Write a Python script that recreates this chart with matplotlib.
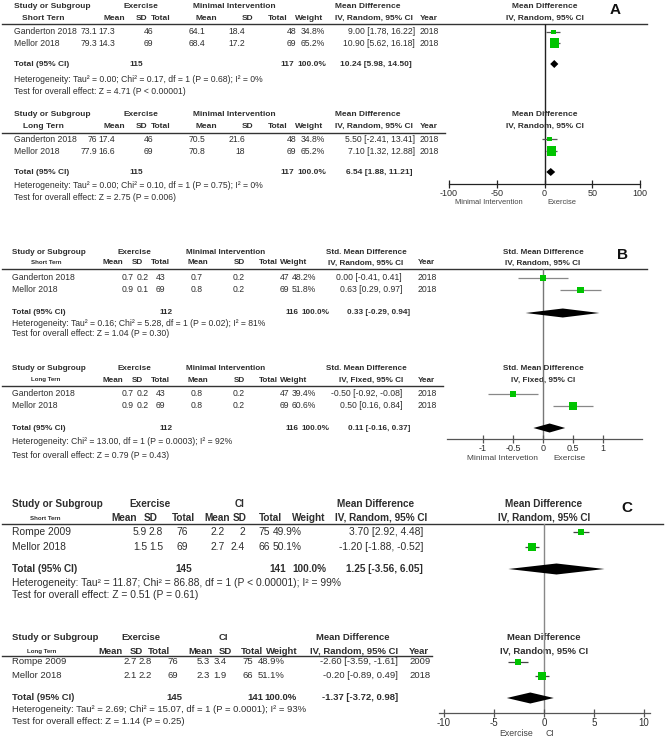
import matplotlib
matplotlib.use('Agg')
import matplotlib.pyplot as plt

W, H, DPI = 669, 739, 100
plt.rcParams['font.family'] = ['Liberation Sans', 'DejaVu Sans']
TXT = '#2e2e2e'
GREEN = '#00c400'

# ====================== DATA ======================
# Panel A - short term
a_short_study = ['Ganderton 2018', 'Mellor 2018']
a_short_year = [2018, 2018]
a_short_ex_mean = [73.1, 79.3]
a_short_ex_sd = [17.3, 14.3]
a_short_ex_n = [46, 69]
a_short_ct_mean = [64.1, 68.4]
a_short_ct_sd = [18.4, 17.2]
a_short_ct_n = [48, 69]
a_short_weight = [34.8, 65.2]
a_short_est = [9.00, 10.90]
a_short_lo = [1.78, 5.62]
a_short_hi = [16.22, 16.18]
a_short_total_n = [115, 117]
a_short_pooled = [10.24, 5.98, 14.50]
a_short_het = 'Heterogeneity: Tau² = 0.00; Chi² = 0.17, df = 1 (P = 0.68); I² = 0%'
a_short_test = 'Test for overall effect: Z = 4.71 (P < 0.00001)'

# Panel A - long term
a_long_study = ['Ganderton 2018', 'Mellor 2018']
a_long_year = [2018, 2018]
a_long_ex_mean = [76, 77.9]
a_long_ex_sd = [17.4, 16.6]
a_long_ex_n = [46, 69]
a_long_ct_mean = [70.5, 70.8]
a_long_ct_sd = [21.6, 18]
a_long_ct_n = [48, 69]
a_long_weight = [34.8, 65.2]
a_long_est = [5.50, 7.10]
a_long_lo = [-2.41, 1.32]
a_long_hi = [13.41, 12.88]
a_long_total_n = [115, 117]
a_long_pooled = [6.54, 1.88, 11.21]
a_long_het = 'Heterogeneity: Tau² = 0.00; Chi² = 0.10, df = 1 (P = 0.75); I² = 0%'
a_long_test = 'Test for overall effect: Z = 2.75 (P = 0.006)'

# Panel B - short term
b_short_study = ['Ganderton 2018', 'Mellor 2018']
b_short_year = [2018, 2018]
b_short_ex_mean = [0.7, 0.9]
b_short_ex_sd = [0.2, 0.1]
b_short_ex_n = [43, 69]
b_short_ct_mean = [0.7, 0.8]
b_short_ct_sd = [0.2, 0.2]
b_short_ct_n = [47, 69]
b_short_weight = [48.2, 51.8]
b_short_est = [0.00, 0.63]
b_short_lo = [-0.41, 0.29]
b_short_hi = [0.41, 0.97]
b_short_total_n = [112, 116]
b_short_pooled = [0.33, -0.29, 0.94]
b_short_het = 'Heterogeneity: Tau² = 0.16; Chi² = 5.28, df = 1 (P = 0.02); I² = 81%'
b_short_test = 'Test for overall effect: Z = 1.04 (P = 0.30)'

# Panel B - long term
b_long_study = ['Ganderton 2018', 'Mellor 2018']
b_long_year = [2018, 2018]
b_long_ex_mean = [0.7, 0.9]
b_long_ex_sd = [0.2, 0.2]
b_long_ex_n = [43, 69]
b_long_ct_mean = [0.8, 0.8]
b_long_ct_sd = [0.2, 0.2]
b_long_ct_n = [47, 69]
b_long_weight = [39.4, 60.6]
b_long_est = [-0.50, 0.50]
b_long_lo = [-0.92, 0.16]
b_long_hi = [-0.08, 0.84]
b_long_total_n = [112, 116]
b_long_pooled = [0.11, -0.16, 0.37]
b_long_het = 'Heterogeneity: Chi² = 13.00, df = 1 (P = 0.0003); I² = 92%'
b_long_test = 'Test for overall effect: Z = 0.79 (P = 0.43)'

# Panel C - short term
c_short_study = ['Rompe 2009', 'Mellor 2018']
c_short_year = [2009, 2018]
c_short_ex_mean = [5.9, 1.5]
c_short_ex_sd = [2.8, 1.5]
c_short_ex_n = [76, 69]
c_short_ct_mean = [2.2, 2.7]
c_short_ct_sd = [2, 2.4]
c_short_ct_n = [75, 66]
c_short_weight = [49.9, 50.1]
c_short_est = [3.70, -1.20]
c_short_lo = [2.92, -1.88]
c_short_hi = [4.48, -0.52]
c_short_total_n = [145, 141]
c_short_pooled = [1.25, -3.56, 6.05]
c_short_het = 'Heterogeneity: Tau² = 11.87; Chi² = 86.88, df = 1 (P < 0.00001); I² = 99%'
c_short_test = 'Test for overall effect: Z = 0.51 (P = 0.61)'

# Panel C - long term
c_long_study = ['Rompe 2009', 'Mellor 2018']
c_long_year = [2009, 2018]
c_long_ex_mean = [2.7, 2.1]
c_long_ex_sd = [2.8, 2.2]
c_long_ex_n = [76, 69]
c_long_ct_mean = [5.3, 2.3]
c_long_ct_sd = [3.4, 1.9]
c_long_ct_n = [75, 66]
c_long_weight = [48.9, 51.1]
c_long_est = [-2.60, -0.20]
c_long_lo = [-3.59, -0.89]
c_long_hi = [-1.61, 0.49]
c_long_total_n = [145, 141]
c_long_pooled = [-1.37, -3.72, 0.98]
c_long_het = 'Heterogeneity: Tau² = 2.69; Chi² = 15.07, df = 1 (P = 0.0001); I² = 93%'
c_long_test = 'Test for overall effect: Z = 1.14 (P = 0.25)'

# axis ticks and labels
a_ticks = [-100, -50, 0, 50, 100]
b_ticks = [-1, -0.5, 0, 0.5, 1]
c_ticks = [-10, -5, 0, 5, 10]
a_side_labels = ['Minimal Intervention', 'Exercise']
b_side_labels = ['Minimal Intervetion', 'Exercise']
c_side_labels = ['Exercise', 'CI']


def group(prefix, subgroup, arms, method, show_year):
    d = globals()
    keys = ['study', 'year', 'ex_mean', 'ex_sd', 'ex_n', 'ct_mean', 'ct_sd', 'ct_n',
            'weight', 'est', 'lo', 'hi', 'total_n', 'pooled', 'het', 'test']
    g = {k: d[f'{prefix}_{k}'] for k in keys}
    g.update(subgroup=subgroup, arms=arms, method=method, show_year=show_year)
    return g


def fmt(v):
    return f'{v:g}'


def eff(e, lo, hi):
    return f'{e:.2f} [{lo:.2f}, {hi:.2f}]'


fig = plt.figure(figsize=(W / DPI, H / DPI), dpi=DPI)
bg = fig.add_axes([0, 0, 1, 1])
bg.set_xlim(0, W)
bg.set_ylim(H, 0)
bg.axis('off')


def T(x, y, s, fs, **kw):
    col = kw.pop('color', TXT)
    bg.text(x, y, s, fontsize=fs, color=col, va='center', **kw)


def draw_table(g, L):
    fs = L['fs']
    hfs = L.get('hfs', fs)
    y = L['y']
    T(L['study_x'], y['h1'], 'Study or Subgroup', hfs, fontweight='bold')
    T(L['sub_x'], y['h2'], g['subgroup'], L['sub_fs'], ha='center', fontweight='bold')
    for lab, cx in zip(g['arms'], L['grp_x']):
        T(cx, y['h1'], lab, hfs, ha='center', fontweight='bold')
    hdrs = ['Mean', 'SD', 'Total', 'Mean', 'SD', 'Total', 'Weight']
    for lab, rx in zip(hdrs, L['hdr_x']):
        T(rx, y['h2'], lab, hfs, ha='right', fontweight='bold')
    # effect header
    T(L['eff_hdr'][0], y['h1'], L['eff_title'], hfs, ha=L['eff_hdr'][1], fontweight='bold')
    T(L['eff_hdr2'][0], y['h2'], g['method'], hfs, ha=L['eff_hdr2'][1], fontweight='bold')
    if g['show_year']:
        T(L['year_x'], y['h2'], 'Year', hfs, ha='left', fontweight='bold')
    # forest header
    T(L['fx_c'], y['h1'], L['eff_title'], hfs, ha='center', fontweight='bold')
    T(L['fx_c'], y['h2'], g['method'], hfs, ha='center', fontweight='bold')
    bg.plot([2, L['line_x1']], [y['line'], y['line']], color='#333333', lw=1.0)
    # study rows
    for i, yy in enumerate(y['r']):
        T(L['study_x'], yy, g['study'][i], fs)
        vals = [fmt(g['ex_mean'][i]), fmt(g['ex_sd'][i]), str(g['ex_n'][i]),
                fmt(g['ct_mean'][i]), fmt(g['ct_sd'][i]), str(g['ct_n'][i]),
                f"{g['weight'][i]:.1f}%"]
        for v, rx in zip(vals, L['val_x']):
            T(rx, yy, v, fs, ha='right')
        T(L['eff_r'], yy, eff(g['est'][i], g['lo'][i], g['hi'][i]), fs, ha='right')
        if g['show_year']:
            T(L['year_x'], yy, str(g['year'][i]), fs, ha='left')
    # total row
    T(L['study_x'], y['tot'], 'Total (95% CI)', hfs, fontweight='bold')
    T(L['tot_x'][0], y['tot'], str(g['total_n'][0]), hfs, ha='right', fontweight='bold')
    T(L['tot_x'][1], y['tot'], str(g['total_n'][1]), hfs, ha='right', fontweight='bold')
    T(L['tot_x'][2], y['tot'], '100.0%', hfs, ha='right', fontweight='bold')
    p = g['pooled']
    T(L['tot_eff_r'], y['tot'], eff(p[0], p[1], p[2]), hfs, ha='right', fontweight='bold')
    T(L['study_x'], y['het'], g['het'], fs)
    T(L['study_x'], y['test'], g['test'], fs)


def make_forest(F, ticks, side_labels):
    x0, x1, y0, y1 = F['box']
    ax = fig.add_axes([x0 / W, 1 - y1 / H, (x1 - x0) / W, (y1 - y0) / H])
    ax.set_xlim(F['xlim'])
    ax.set_ylim(y1, y0)
    ax.patch.set_alpha(0)
    for s in ['top', 'right', 'left']:
        ax.spines[s].set_visible(False)
    ax.spines['bottom'].set_color(F['axcol'])
    ax.spines['bottom'].set_linewidth(0.9)
    ax.set_yticks([])
    ax.set_xticks(ticks)
    ax.set_xticklabels([fmt(t) for t in ticks], fontsize=F['tfs'], color=TXT)
    ax.tick_params(axis='x', direction='inout', length=6, width=0.9,
                   color=F['axcol'], pad=0.5)
    ax.plot([0, 0], [y0, y1], color=F['zcol'], lw=F['zlw'], zorder=1)
    for lab, (xx, ha) in zip(side_labels, F['side']):
        T(xx, F['side_y'], lab, F['sfs'], ha=ha, color='#444444')
    return ax


def draw_marks(ax, g, L, F):
    y = L['y']
    for i, yy in enumerate(y['r']):
        side = F['msize'] * g['weight'][i]
        ax.hlines(yy, g['lo'][i], g['hi'][i], color=F['cicol'], lw=0.9, zorder=2)
        ax.scatter([g['est'][i]], [yy], marker='s', s=(side * 0.72) ** 2,
                   color=GREEN, edgecolors='none', zorder=3)
    e, lo, hi = g['pooled']
    h = F['dh'] / 2.0
    yt = y['tot']
    ax.fill([lo, e, hi, e], [yt, yt - h, yt, yt + h], color='black', zorder=3, lw=0)


# ====================== PANEL A ======================
LA_common = dict(fs=6.2, hfs=6.0, study_x=14, grp_x=[141, 234],
                 hdr_x=[125, 147, 170, 217, 253, 287, 323],
                 val_x=[97, 115, 153, 205, 245, 296, 325], tot_x=[143, 294, 326],
                 eff_title='Mean Difference', eff_hdr=(335, 'left'), eff_hdr2=(335, 'left'),
                 eff_r=415, tot_eff_r=412, year_x=420, fx_c=545, sub_x=43, sub_fs=6.0)
LA_s = dict(LA_common, y=dict(h1=7, h2=18, line=24, r=[32, 43], tot=64, het=80, test=92), line_x1=647)
LA_l = dict(LA_common, y=dict(h1=114, h2=126, line=133, r=[139, 151], tot=172, het=185, test=197), line_x1=445)
FA = dict(box=(449, 640, 24, 184), xlim=(-100, 100), axcol='#222222', zcol='#222222', zlw=1.0,
          tfs=6.5, cicol='#555555', msize=0.14, dh=8, side=[(523, 'right'), (547, 'left')],
          side_y=203, sfs=5.4)

ga_s = group('a_short', 'Short Tern', ['Exercise', 'Minimal Intervention'], 'IV, Random, 95% CI', True)
ga_l = group('a_long', 'Long Tern', ['Exercise', 'Minimal Intervention'], 'IV, Random, 95% CI', True)
draw_table(ga_s, LA_s)
draw_table(ga_l, LA_l)
axA = make_forest(FA, a_ticks, a_side_labels)
draw_marks(axA, ga_s, LA_s, FA)
draw_marks(axA, ga_l, LA_l, FA)
bg.text(615, 10, 'A', fontsize=11, fontweight='bold', color='#111111', ha='center', va='center')

# ====================== PANEL B ======================
LB_common = dict(fs=6.2, hfs=5.9, study_x=12, grp_x=[134, 226],
                 hdr_x=[123, 143, 170, 208, 245, 278, 307],
                 val_x=[134, 149, 165, 203, 245, 289, 316], tot_x=[173, 299, 330],
                 eff_title='Std. Mean Difference', eff_hdr=(407, 'right'), eff_hdr2=(403, 'right'),
                 eff_r=402, tot_eff_r=410, year_x=418, fx_c=543, sub_x=46, sub_fs=4.4)
LB_s = dict(LB_common, y=dict(h1=253, h2=263, line=269, r=[278, 290], tot=313, het=324, test=334), line_x1=647)
LB_l = dict(LB_common, y=dict(h1=369, h2=380, line=386, r=[394, 406], tot=428, het=441, test=455), line_x1=443)
FB = dict(box=(447, 642, 269, 439), xlim=(-1.6, 1.65), axcol='#555555', zcol='#777777', zlw=1.0,
          tfs=6.5, cicol='#888888', msize=0.13, dh=9, side=[(538, 'right'), (553, 'left')],
          side_y=459, sfs=6.0)

gb_s = group('b_short', 'Short Tern', ['Exercise', 'Minimal Intervention'], 'IV, Random, 95% CI', True)
gb_l = group('b_long', 'Long Tern', ['Exercise', 'Minimal Intervention'], 'IV, Fixed, 95% CI', True)
draw_table(gb_s, LB_s)
draw_table(gb_l, LB_l)
axB = make_forest(FB, b_ticks, b_side_labels)
draw_marks(axB, gb_s, LB_s, FB)
draw_marks(axB, gb_l, LB_l, FB)
bg.text(622, 255, 'B', fontsize=11, fontweight='bold', color='#111111', ha='center', va='center')

# ====================== PANEL C ======================
LC_s = dict(fs=7.4, hfs=7.2, study_x=12, grp_x=[150, 240],
            hdr_x=[137, 158, 195, 230, 247, 282, 325],
            val_x=[147, 163, 188, 225, 245, 270, 302], tot_x=[192, 286, 326],
            eff_title='Mean Difference', eff_hdr=(337, 'left'), eff_hdr2=(335, 'left'),
            eff_r=423, tot_eff_r=423, year_x=430, fx_c=544, sub_x=45, sub_fs=4.4,
            y=dict(h1=504, h2=518, line=524, r=[532, 547], tot=569, het=583, test=595), line_x1=663)
LC_l = dict(fs=6.8, study_x=12, grp_x=[141, 223],
            hdr_x=[123, 143, 170, 213, 232, 263, 298],
            val_x=[137, 152, 178, 210, 227, 253, 285], tot_x=[182, 263, 297],
            eff_title='Mean Difference', eff_hdr=(390, 'right'), eff_hdr2=(398, 'right'),
            eff_r=398, tot_eff_r=398, year_x=409, fx_c=544, sub_x=42, sub_fs=4.4,
            y=dict(h1=637, h2=651, line=656, r=[662, 676], tot=698, het=710, test=722), line_x1=432)
FC = dict(box=(439, 650, 524, 713), xlim=(-10.5, 10.6), axcol='#555555', zcol='#888888', zlw=1.0,
          tfs=7.0, cicol='#444444', msize=0.14, dh=11, side=[(533, 'right'), (545, 'left')],
          side_y=733, sfs=6.3)

gc_s = group('c_short', 'Short Tern', ['Exercise', 'CI'], 'IV, Random, 95% CI', False)
gc_l = group('c_long', 'Long Tern', ['Exercise', 'CI'], 'IV, Random, 95% CI', True)
draw_table(gc_s, LC_s)
draw_table(gc_l, LC_l)
axC = make_forest(FC, c_ticks, c_side_labels)
draw_marks(axC, gc_s, LC_s, FC)
draw_marks(axC, gc_l, LC_l, FC)
bg.text(627, 508, 'C', fontsize=11, fontweight='bold', color='#111111', ha='center', va='center')

fig.savefig('out.png', dpi=DPI, facecolor='white')
